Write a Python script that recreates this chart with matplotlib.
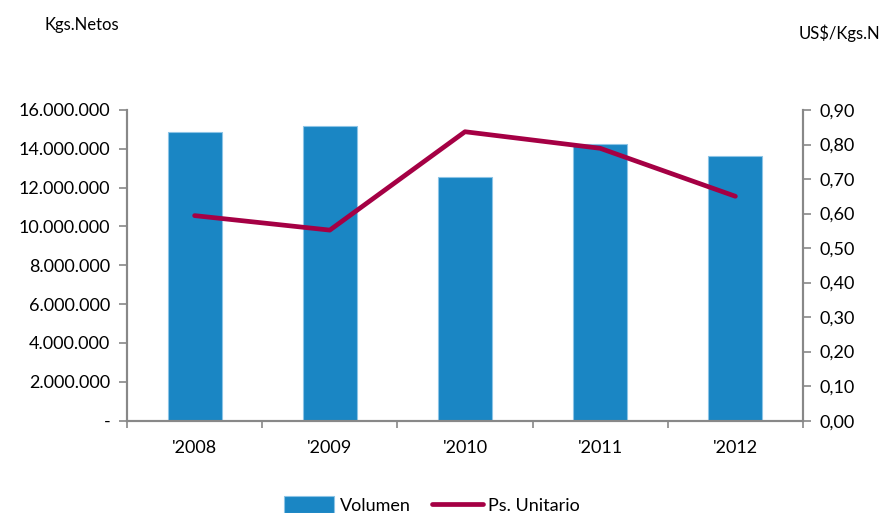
import matplotlib
matplotlib.use("Agg")
import matplotlib.pyplot as plt
import numpy as np
from matplotlib.ticker import FuncFormatter, MultipleLocator

years = ["'2008", "'2009", "'2010", "'2011", "'2012"]
volumen = [14850000, 15180000, 12540000, 14230000, 13620000]
ps_unitario = [0.594, 0.552, 0.837, 0.789, 0.650]

plt.rcParams["font.family"] = ["Lato", "DejaVu Sans"]
bar_c = '#1A86C4'
line_c = '#A50044'
axis_c = '#888888'

fig = plt.figure(figsize=(8.82, 5.13), dpi=100)
ax1 = fig.add_axes([0.144, 0.18, 0.7664, 0.6056])
ax2 = ax1.twinx()

x = np.arange(len(years))
ax1.bar(x, volumen, width=0.4, color=bar_c, edgecolor='#8CC4E6', linewidth=0.8, label='Volumen', zorder=2)
ax2.plot(x, ps_unitario, '-', c=line_c, linewidth=3.4, label='Ps. Unitario', solid_capstyle='round', zorder=3)

ax1.set_xlim(-0.5, len(years) - 0.5)
ax1.set_ylim(0, 16000000)
ax2.set_ylim(0, 0.9)
ax1.yaxis.set_major_locator(MultipleLocator(2000000))
ax2.yaxis.set_major_locator(MultipleLocator(0.1))

def fmt_left(v, pos):
    if v == 0:
        return '-'
    return '{:,.0f}'.format(v).replace(',', '.')

ax1.yaxis.set_major_formatter(FuncFormatter(fmt_left))
ax2.yaxis.set_major_formatter(FuncFormatter(lambda v, p: '{:.2f}'.format(v).replace('.', ',')))

ax1.set_xticks(np.arange(-0.5, len(years)), minor=False)
ax1.set_xticklabels([])
ax1.set_xticks(x, minor=True)
ax1.set_xticklabels(years, minor=True)
ax1.tick_params(axis='x', which='major', length=5, width=1.2, color=axis_c, direction='out')
ax1.tick_params(axis='x', which='minor', length=0, pad=14, labelsize=13)
ax1.tick_params(axis='y', length=6, width=1.2, color=axis_c, direction='out', labelsize=13, pad=6)
ax2.tick_params(axis='y', length=6, width=1.2, color=axis_c, direction='out', labelsize=13, pad=6)

for ax in (ax1, ax2):
    ax.spines['top'].set_visible(False)
    for s in ('left', 'right', 'bottom'):
        ax.spines[s].set_color(axis_c)
        ax.spines[s].set_linewidth(1.5)

fig.text(45 / 882, 1 - 25 / 513, 'Kgs.Netos', fontsize=12, va='center', ha='left')
fig.text(880 / 882, 1 - 33 / 513, 'US$/Kgs.N', fontsize=12, va='center', ha='right')

h1, l1 = ax1.get_legend_handles_labels()
h2, l2 = ax2.get_legend_handles_labels()
fig.legend(h1 + h2, l1 + l2, loc='center', bbox_to_anchor=(432 / 882, 1 - 505 / 513), ncol=2,
           frameon=False, fontsize=13, handlelength=2.8, handleheight=1.0, columnspacing=1.2,
           handletextpad=0.3)

fig.savefig('out.png', dpi=100)
